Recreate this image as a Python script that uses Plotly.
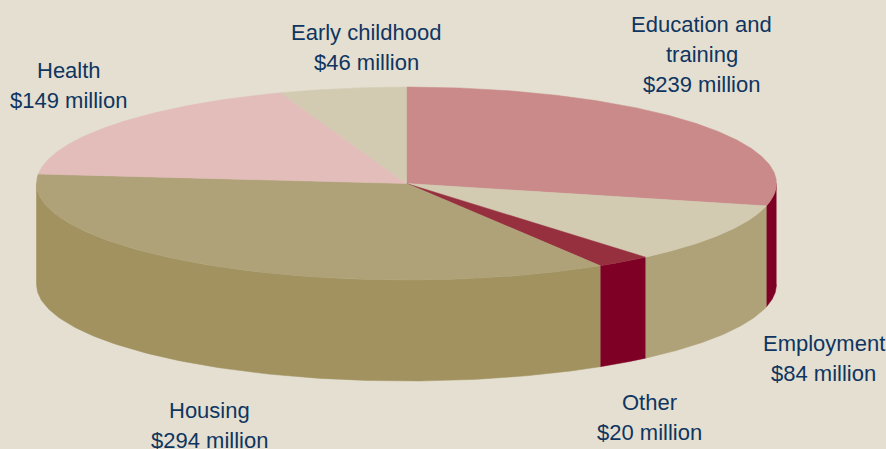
import numpy as np
import plotly.graph_objects as go

# Data, clockwise from 12 o'clock
categories = ["Education and training", "Employment", "Other", "Housing", "Health", "Early childhood"]
values = [239, 84, 20, 294, 149, 46]
top_colors = ["#C98A89", "#D3CAB2", "#96303F", "#AFA278", "#E2BDBA", "#D3CAB2"]
wall_colors = ["#7F0025", "#AFA278", "#7F0025", "#A19260", "#A19260", "#A19260"]
label_lines = [
    ["Education and", "training", "$239 million"],
    ["Employment", "$84 million"],
    ["Other", "$20 million"],
    ["Housing", "$294 million"],
    ["Health", "$149 million"],
    ["Early childhood", "$46 million"],
]
label_x = [701.5, 823.5, 649.5, 209.5, 68.5, 366]
label_first_y = [24, 343, 402, 410, 70, 32]

# Pseudo-3D projection
W, H = 886, 449
CX, CY, RX, RY, DEPTH = 406.5, 183.5, 370, 96.5, 101
LINE_STEP = 30
BG = "#E4DFD1"
TEXT = "#0F3560"


def ellipse(theta, drop=0.0):
    return CX + RX * np.sin(theta), CY - RY * np.cos(theta) + drop


edges = np.concatenate([[0], np.cumsum(values)]) / sum(values) * 2 * np.pi
fig = go.Figure()


def poly(x, y, color):
    fig.add_trace(go.Scatter(
        x=np.asarray(x), y=np.asarray(y), mode="lines", fill="toself",
        fillcolor=color, line=dict(color=color, width=0.5),
        hoverinfo="skip", showlegend=False,
    ))


# Visible outer walls (front half of the rim only)
for a, b, color in zip(edges[:-1], edges[1:], wall_colors):
    lo, hi = max(a, np.pi / 2), min(b, 3 * np.pi / 2)
    if hi <= lo:
        continue
    t = np.linspace(lo, hi, 120)
    x, y = ellipse(t)
    xb, yb = ellipse(t[::-1], DEPTH)
    poly(np.r_[x, xb], np.r_[y, yb], color)

# Top face
for a, b, color in zip(edges[:-1], edges[1:], top_colors):
    t = np.linspace(a, b, 200)
    x, y = ellipse(t)
    poly(np.r_[CX, x, CX], np.r_[CY, y, CY], color)

annotations = []
for lines, lx, ly in zip(label_lines, label_x, label_first_y):
    for i, line in enumerate(lines):
        annotations.append(dict(
            x=lx, y=ly + i * LINE_STEP, xref="x", yref="y", text=line,
            showarrow=False, xanchor="center", yanchor="middle",
            font=dict(family="Liberation Sans, Arial, sans-serif", size=22, color=TEXT),
        ))

fig.update_layout(
    width=W, height=H, autosize=False,
    margin=dict(l=0, r=0, t=0, b=0),
    paper_bgcolor=BG, plot_bgcolor=BG,
    xaxis=dict(range=[0, W], visible=False, fixedrange=True),
    yaxis=dict(range=[H, 0], visible=False, fixedrange=True),
    annotations=annotations,
)
fig.write_html(
    "out.html",
    config=dict(displayModeBar=False),
    post_script=(
        "document.documentElement.style.overflow='hidden';"
        "document.body.style.margin='0';"
        "document.body.style.background='" + BG + "';"
    ),
)
